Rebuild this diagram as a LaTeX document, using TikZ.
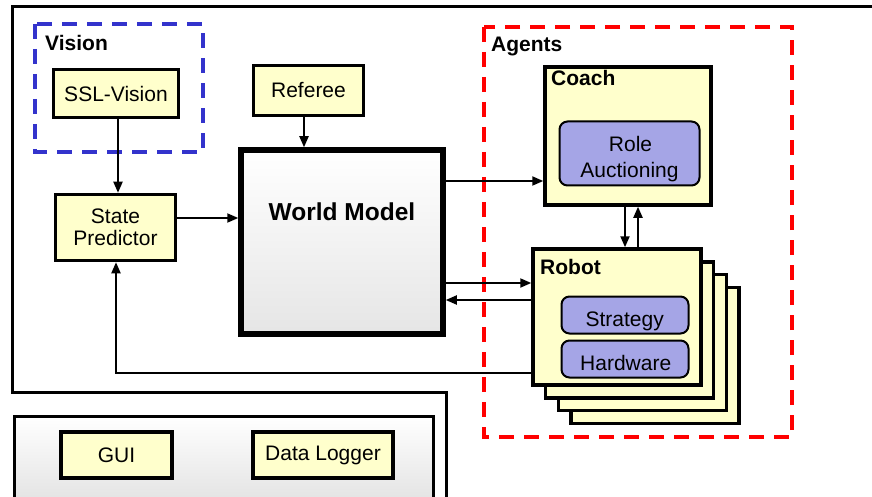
\documentclass[tikz,border=0pt]{standalone}
\usepackage{fontspec}
\setmainfont{Liberation Sans}
\usetikzlibrary{arrows.meta}
\definecolor{boxyellow}{RGB}{255,255,204}
\definecolor{rolepurple}{RGB}{165,165,230}
\definecolor{visblue}{RGB}{51,51,204}
\begin{document}
\begin{tikzpicture}[x=1pt,y=-1pt,
  ybox/.style={draw=black, line width=3.5pt, fill=boxyellow, inner sep=0pt, align=center, font=\fontsize{21}{22}\selectfont},
  pbox/.style={draw=black, line width=2pt, fill=rolepurple, rounded corners=8pt, inner sep=0pt},
  ptext/.style={anchor=base, inner sep=0pt, font=\fontsize{21}{22}\selectfont},
  lbl/.style={anchor=base west, font=\bfseries\fontsize{21}{24}\selectfont, inner sep=0pt},
  arr/.style={line width=2pt, -{Triangle[length=11pt,width=9pt]}},
  frame/.style={line width=3pt, draw=black},
  dashbox/.style={line width=3.5pt, dash pattern=on 15pt off 10pt},
]
\useasboundingbox (0,0) rectangle (872,497);
% outer frame
\draw[frame] (872,7) -- (12,7) -- (12,392) -- (446,392) -- (446,500);
% lower box
\draw[frame, top color=white, bottom color=black!12] (14,416) rectangle (433,510);
% group boxes
\draw[dashbox, draw=visblue] (35,24) rectangle (203,152);
\draw[dashbox, draw=red] (484,27) rectangle (792,437);
\node[lbl] (vislbl) at (45,51) {Vision};
\node[lbl] (aglbl) at (491,52) {Agents};
% vision
\node[ybox, minimum width=125pt, minimum height=48pt] (ssl) at (116,93.5) {SSL-Vision};
\node[ybox, minimum width=110pt, minimum height=50pt] (ref) at (308.5,90.5) {Referee};
\node[ybox, minimum width=120pt, minimum height=66pt] (sp) at (115.5,227.5) {State\\Predictor};
% world model
\node[draw=black, line width=5.5pt, top color=white, bottom color=black!10, minimum width=202pt, minimum height=184pt, inner sep=0pt] (wm) at (342,242) {};
\node[font=\bfseries\fontsize{24.5}{28}\selectfont, inner sep=0pt, anchor=base] (wmtext) at (342,220) {World Model};
% coach
\node[ybox, minimum width=166pt, minimum height=138pt] (coach) at (628,136) {};
\node[lbl] (coachlbl) at (551,86) {Coach};
\node[pbox, minimum width=140pt, minimum height=64pt] (role) at (629.5,153.5) {};
\node[ptext] (roletext1) at (630.5,151.5) {Role};
\node[ptext] (roletext2) at (629.5,178) {Auctioning};
% robot stack
\node[ybox, minimum width=168pt, minimum height=136pt] (robot4) at (655,355.5) {};
\node[ybox, minimum width=168pt, minimum height=136pt] (robot3) at (642.5,342.5) {};
\node[ybox, minimum width=168pt, minimum height=136pt] (robot2) at (629.5,330) {};
\node[ybox, minimum width=168pt, minimum height=136pt] (robot) at (617,317) {};
\node[lbl] (robotlbl) at (540,274) {Robot};
\node[pbox, minimum width=127pt, minimum height=37pt] (strat) at (625,315) {};
\node[ptext] (strattext) at (624.7,326) {Strategy};
\node[pbox, minimum width=127pt, minimum height=37pt] (hw) at (625,359) {};
\node[ptext] (hwtext) at (625.7,370) {Hardware};
% lower tools
\node[ybox, minimum width=111pt, minimum height=46pt] (gui) at (116.5,455) {GUI};
\node[ybox, minimum width=140pt, minimum height=46pt] (dlog) at (323,455) {Data Logger};
% connectors
\draw[arr] (ssl.south -| 118,0) -- (sp.north -| 118,0);
\draw[arr] (ref.south -| 304,0) -- (wm.north -| 304,0);
\draw[arr] (sp.east |- 0,218) -- (wm.west |- 0,218);
\draw[arr] (wm.east |- 0,181) -- (coach.west |- 0,181);
\draw[arr] (wm.east |- 0,283) -- (robot.west |- 0,283);
\draw[arr] (robot.west |- 0,300) -- (wm.east |- 0,300);
\draw[arr] (coach.south -| 625,0) -- (robot.north -| 625,0);
\draw[arr] (robot.north -| 638,0) -- (coach.south -| 638,0);
\draw[arr] (robot.west |- 0,373) -| (sp.south -| 116,0);
\end{tikzpicture}
\end{document}
